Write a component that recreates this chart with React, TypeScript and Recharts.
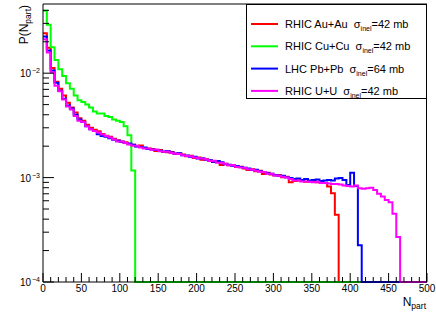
import { LineChart, Line, XAxis, YAxis } from "recharts";

const BIN_WIDTH = 5;
const N_BINS = 100;
const Y_MIN = 1e-4;
const Y_MAX = 0.046;

// P(N_part) per 5-wide bin, starting at N_part = 0. Bins not listed are empty.
const auAu = [
  0.0241, 0.0175, 0.0112, 0.0083, 0.0071, 0.0061, 0.0052, 0.0047, 0.0042, 0.0037,
  0.0035, 0.0032, 0.003, 0.00288, 0.00278, 0.00262, 0.00252, 0.00246, 0.00236, 0.00228,
  0.00222, 0.00218, 0.0021, 0.00206, 0.002, 0.00203, 0.00192, 0.0019, 0.00188, 0.0018,
  0.00184, 0.00176, 0.00175, 0.00176, 0.00168, 0.0017, 0.00166, 0.0016, 0.00162, 0.00154,
  0.00156, 0.00148, 0.0015, 0.00146, 0.00141, 0.00143, 0.00132, 0.00136, 0.00131, 0.00131,
  0.00126, 0.00127, 0.00122, 0.00118, 0.0012, 0.00115, 0.00116, 0.00108, 0.00111, 0.00107,
  0.00105, 0.00106, 0.00101, 0.00102, 0.0009, 0.00093, 0.00094, 0.00095, 0.00091, 0.00092,
  0.00093, 0.0009, 0.00091, 0.00089, 0.00082, 0.00071, 0.00044,
];

const cuCu = [
  0.0397, 0.0291, 0.0177, 0.0134, 0.0109, 0.0094, 0.008, 0.0071, 0.0061, 0.0055,
  0.0053, 0.005, 0.0047, 0.0043, 0.0041, 0.0041, 0.0039, 0.0038, 0.0036, 0.0035,
  0.0034, 0.0031, 0.00254, 0.00117,
];

const pbPb = [
  0.0225, 0.0165, 0.0106, 0.0081, 0.0068, 0.0057, 0.0049, 0.0046, 0.004, 0.0036,
  0.0034, 0.0031, 0.0029, 0.0028, 0.0026, 0.0025, 0.00246, 0.00238, 0.0023, 0.00226,
  0.0022, 0.00214, 0.00212, 0.00206, 0.00198, 0.00196, 0.00194, 0.00188, 0.00186, 0.00184,
  0.00181, 0.00178, 0.0018, 0.00174, 0.0017, 0.00171, 0.00164, 0.00163, 0.00158, 0.00158,
  0.00152, 0.00153, 0.00148, 0.00147, 0.00142, 0.00144, 0.0014, 0.00134, 0.00133, 0.0013,
  0.00129, 0.00126, 0.00124, 0.00122, 0.00118, 0.00119, 0.00115, 0.00113, 0.0011, 0.00109,
  0.00106, 0.00104, 0.00104, 0.00101, 0.00099, 0.00097, 0.00098, 0.00095, 0.00097, 0.00094,
  0.00095, 0.00096, 0.00093, 0.00094, 0.00095, 0.00094, 0.00098, 0.00099, 0.00095, 0.00085,
  0.00111, 0.00083, 0.000225,
];

const uU = [
  0.0211, 0.0158, 0.0102, 0.0076, 0.0067, 0.0056, 0.0048, 0.0045, 0.0039, 0.0035,
  0.0034, 0.0031, 0.0029, 0.0028, 0.0027, 0.00258, 0.0025, 0.00242, 0.00232, 0.00222,
  0.00222, 0.00214, 0.00208, 0.00202, 0.00202, 0.00194, 0.0019, 0.0019, 0.00185, 0.00186,
  0.00179, 0.00177, 0.00178, 0.00172, 0.00169, 0.00168, 0.00164, 0.00161, 0.0016, 0.00156,
  0.00153, 0.00152, 0.00149, 0.00144, 0.00145, 0.00139, 0.00139, 0.00136, 0.00131, 0.00132,
  0.00127, 0.00125, 0.00124, 0.0012, 0.00119, 0.00116, 0.00114, 0.00113, 0.00109, 0.00109,
  0.00105, 0.00104, 0.00102, 0.001, 0.00097, 0.00094, 0.00094, 0.00092, 0.00092, 0.00091,
  0.0009, 0.00091, 0.00089, 0.00089, 0.00088, 0.00087, 0.00087, 0.00086, 0.00084, 0.00083,
  0.00082, 0.00084, 0.00079, 0.00078, 0.00079, 0.0008, 0.00076, 0.0007, 0.00066, 0.00061,
  0.00058, 0.00045, 0.00027,
];

const X_TICKS = [
  0, 10, 20, 30, 40, 50, 60, 70, 80, 90, 100, 110, 120, 130, 140, 150, 160, 170, 180, 190,
  200, 210, 220, 230, 240, 250, 260, 270, 280, 290, 300, 310, 320, 330, 340, 350, 360, 370,
  380, 390, 400, 410, 420, 430, 440, 450, 460, 470, 480, 490, 500,
];

const Y_TICKS = [
  1e-4, 2e-4, 3e-4, 4e-4, 5e-4, 6e-4, 7e-4, 8e-4, 9e-4,
  1e-3, 2e-3, 3e-3, 4e-3, 5e-3, 6e-3, 7e-3, 8e-3, 9e-3,
  1e-2, 2e-2, 3e-2, 4e-2,
];

const SERIES = [
  { key: "au", values: auAu, color: "#ff0000", name: "RHIC Au+Au", sigma: "42" },
  { key: "cu", values: cuCu, color: "#00ff00", name: "RHIC Cu+Cu", sigma: "42" },
  { key: "pb", values: pbPb, color: "#0000ff", name: "LHC Pb+Pb", sigma: "64" },
  { key: "u", values: uU, color: "#ff00ff", name: "RHIC U+U", sigma: "42" },
];

// one row per bin edge; empty bins sit on the axis floor like ROOT draws them
const rows: Record<string, number>[] = [];
for (let i = 0; i <= N_BINS; i++) {
  const bin = Math.min(i, N_BINS - 1);
  const row: Record<string, number> = { n: i * BIN_WIDTH };
  for (const s of SERIES) row[s.key] = Math.max(s.values[bin] ?? 0, Y_MIN);
  rows.push(row);
}

const FONT = "'Liberation Sans', Arial, Helvetica, sans-serif";

function XTick(props: any) {
  const { x, y, payload } = props;
  const v = payload.value;
  const major = v % 50 === 0;
  return (
    <g>
      <line x1={x} x2={x} y1={y} y2={y - (major ? 9 : 5)} stroke="#000" />
      {major && (
        <text x={x} y={y + 10} textAnchor="middle" fontSize={10} fontFamily={FONT} fill="#000">
          {v}
        </text>
      )}
    </g>
  );
}

function YTick(props: any) {
  const { x, y, payload } = props;
  const v = payload.value;
  const exp = Math.round(Math.log10(v));
  const major = Math.abs(v - Math.pow(10, exp)) < 1e-9;
  return (
    <g>
      <line x1={x} x2={x + (major ? 11 : 6)} y1={y} y2={y} stroke="#000" />
      {major && (
        <g fontFamily={FONT} fill="#000">
          <text x={x - 12} y={y + 4} textAnchor="end" fontSize={10}>
            10
          </text>
          <text x={x - 11} y={y} fontSize={7}>
            {"\u2212" + Math.abs(exp)}
          </text>
        </g>
      )}
    </g>
  );
}

export default function App() {
  return (
    <div style={{ position: "fixed", left: 0, top: 0, width: 436, height: 314, background: "#fff" }}>
      <LineChart width={436} height={314} data={rows} margin={{ top: 4, right: 9, left: 0, bottom: 0 }}>
        <XAxis
          dataKey="n"
          type="number"
          domain={[0, 500]}
          ticks={X_TICKS}
          interval={0}
          tick={<XTick />}
          tickLine={false}
          tickSize={0}
          tickMargin={0}
          height={32}
          axisLine={{ stroke: "#000" }}
        />
        <YAxis
          type="number"
          scale="log"
          domain={[Y_MIN, Y_MAX]}
          ticks={Y_TICKS}
          interval={0}
          tick={<YTick />}
          tickLine={false}
          tickSize={0}
          tickMargin={0}
          width={43}
          axisLine={{ stroke: "#000" }}
        />
        {SERIES.map((s) => (
          <Line
            key={s.key}
            dataKey={s.key}
            type="stepAfter"
            stroke={s.color}
            strokeWidth={2}
            dot={false}
            activeDot={false}
            isAnimationActive={false}
          />
        ))}
      </LineChart>
      <svg
        width={436}
        height={314}
        style={{ position: "absolute", left: 0, top: 0, pointerEvents: "none" }}
        fontFamily={FONT}
      >
        <line x1={43} x2={427} y1={4} y2={4} stroke="#000" />
        <line x1={426.5} x2={426.5} y1={4} y2={282} stroke="#000" />
        <rect x={246.5} y={4.5} width={180} height={94} fill="#fff" stroke="#000" />
        {SERIES.map((s, i) => {
          const y = 24 + i * 22.3;
          return (
            <g key={s.key}>
              <line x1={251} x2={278} y1={y} y2={y} stroke={s.color} strokeWidth={2} />
              <text x={285} y={y + 4} fontSize={11} fill="#000" style={{ whiteSpace: "pre" }}>
                {s.name + "\u00a0\u00a0\u03c3"}
                <tspan fontSize={7} dy={3}>
                  inel
                </tspan>
                <tspan dy={-3}>{"=" + s.sigma + " mb"}</tspan>
              </text>
            </g>
          );
        })}
        <text transform="translate(28,5) rotate(-90)" textAnchor="end" fontSize={12} fill="#000">
          P(N
          <tspan fontSize={8.5} dy={3}>
            part
          </tspan>
          <tspan dy={-3}>)</tspan>
        </text>
        <text x={426} y={306} textAnchor="end" fontSize={12} fill="#000">
          N
          <tspan fontSize={8.5} dy={3}>
            part
          </tspan>
        </text>
      </svg>
    </div>
  );
}
